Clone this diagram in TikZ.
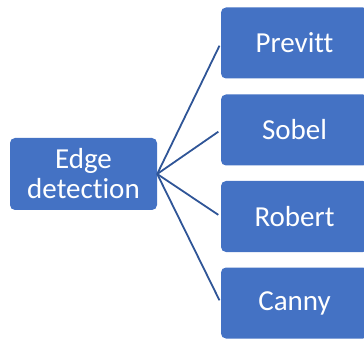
\documentclass[tikz,border=0pt]{standalone}
\usepackage{fontspec}
\setmainfont[Ligatures=NoCommon]{Carlito}
\definecolor{boxblue}{HTML}{4472C4}
\definecolor{linkblue}{HTML}{2F5597}
\tikzset{
  box/.style={fill=boxblue, rounded corners=5pt, text=white, align=center,
    minimum width=147pt, minimum height=72pt, inner sep=0pt,
    font=\fontsize{29}{30}\selectfont},
  link/.style={draw=linkblue, line width=1.8pt, shorten >=3pt}
}
\begin{document}
\begin{tikzpicture}[x=1pt,y=-1pt]
\useasboundingbox (0,0) rectangle (364,339);
\clip (0,0) rectangle (364,339);
\node[box] (edge) at (83.5,174) {Edge\\detection};
\node[box, minimum height=71pt] (p) at (294.5,43) {Previtt};
\node[box, minimum height=71pt] (s) at (294.5,130) {Sobel};
\node[box, minimum height=71pt] (r) at (294.5,216.5) {Robert};
\node[box, minimum height=71pt] (c) at (294.5,303) {Canny};
\foreach \t in {p,s,r,c} \draw[link] (edge.east) -- (\t.west);
\end{tikzpicture}
\end{document}
